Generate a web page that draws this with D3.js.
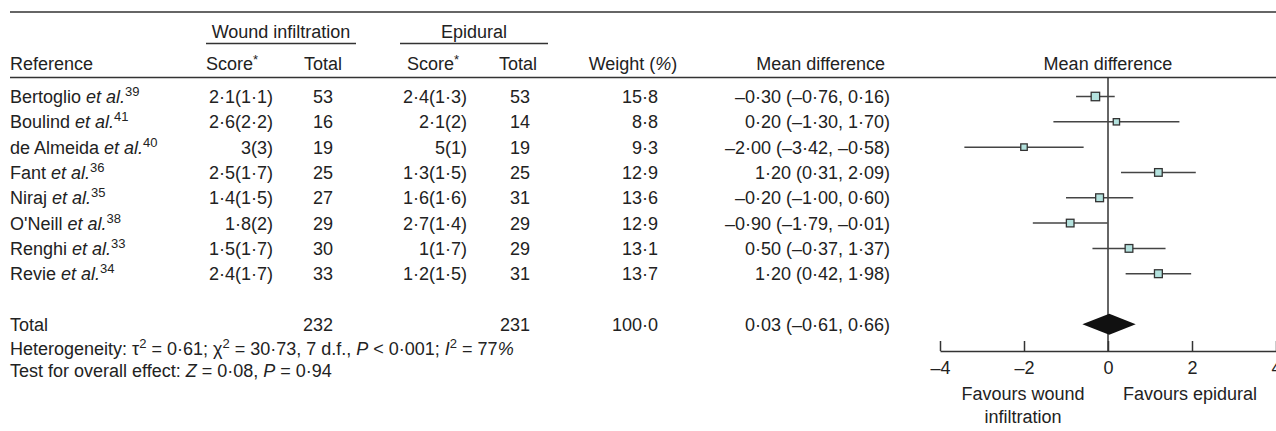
<!DOCTYPE html>
<html>
<head>
<meta charset="utf-8">
<script src="https://cdn.jsdelivr.net/npm/d3@7"></script>
<style>
  body { margin: 0; background: #fff; }
  svg text { font-family: "Liberation Sans", Arial, Helvetica, sans-serif; fill: #222; }
</style>
</head>
<body>
<svg id="chart" width="1276" height="431"></svg>
<script>
// forest plot: wound infiltration vs epidural

var authors   = ["Bertoglio", "Boulind", "de Almeida", "Fant", "Niraj", "O'Neill", "Renghi", "Revie"];
var refNums   = ["39", "41", "40", "36", "35", "38", "33", "34"];
var wiScore   = ["2·1(1·1)", "2·6(2·2)", "3(3)", "2·5(1·7)", "1·4(1·5)", "1·8(2)", "1·5(1·7)", "2·4(1·7)"];
var wiTotal   = [53, 16, 19, 25, 27, 29, 30, 33];
var epScore   = ["2·4(1·3)", "2·1(2)", "5(1)", "1·3(1·5)", "1·6(1·6)", "2·7(1·4)", "1(1·7)", "1·2(1·5)"];
var epTotal   = [53, 14, 19, 25, 31, 29, 29, 31];
var weights   = [15.8, 8.8, 9.3, 12.9, 13.6, 12.9, 13.1, 13.7];
var meanDiff  = [-0.30, 0.20, -2.00, 1.20, -0.20, -0.90, 0.50, 1.20];
var ciLow     = [-0.76, -1.30, -3.42, 0.31, -1.00, -1.79, -0.37, 0.42];
var ciHigh    = [0.16, 1.70, -0.58, 2.09, 0.60, -0.01, 1.37, 1.98];

var totalMD   = [0.03, -0.61, 0.66];   // estimate, low, high
var totalWI   = 232;
var totalEP   = 231;
var axisTicks = [-4, -2, 0, 2, 4];

var svg = d3.select("#chart");
var FS = 18;
var SUP = 13;

// numbers in the paper use a raised dot and an en dash
function fmt(v, digits) {
    var s = Math.abs(v).toFixed(digits).replace(".", "·");
    return (v < 0 ? "–" : "") + s;
}

var x = d3.scaleLinear().domain([-4, 4]).range([940, 1276]);
var yRow = d3.scaleLinear().domain([0, 7]).range([96.5, 273.7]);
var boxSize = d3.scaleSqrt().domain([0, 16]).range([0, 8.5]);

function txt(xp, yp, s, anchor) {
    return svg.append("text")
        .attr("x", xp).attr("y", yp)
        .attr("font-size", FS)
        .attr("text-anchor", anchor || "start")
        .text(s);
}

// rules
function hline(x1, x2, yp) {
    svg.append("line").attr("x1", x1).attr("x2", x2).attr("y1", yp).attr("y2", yp)
        .attr("stroke", "#333").attr("stroke-width", 1.3);
}
hline(10, 1276, 12);
hline(10, 1276, 77.5);
hline(206, 356, 43.5);
hline(400, 548, 43.5);

// headers
txt(281, 38, "Wound infiltration", "middle");
txt(474, 38, "Epidural", "middle");
txt(10, 70, "Reference");
var sc = txt(206, 70, "Score");
sc.append("tspan").attr("font-size", SUP).attr("dy", -6).text("*");
txt(323, 70, "Total", "middle");
var sc2 = txt(407, 70, "Score");
sc2.append("tspan").attr("font-size", SUP).attr("dy", -6).text("*");
txt(518, 70, "Total", "middle");
var wh = txt(633, 70, "Weight (", "middle");
wh.append("tspan").attr("font-style", "italic").text("%");
wh.append("tspan").text(")");
txt(885, 70, "Mean difference", "end");
txt(1108, 70, "Mean difference", "middle");

// study rows
var rows = svg.append("g").selectAll("g.row")
    .data(d3.range(authors.length))
    .enter().append("g").attr("class", "row")
    .attr("transform", function(i) { return "translate(0," + (yRow(i) + 6.5) + ")"; });

rows.append("text").attr("x", 10).attr("font-size", FS)
    .each(function(i) {
        var t = d3.select(this);
        t.append("tspan").text(authors[i] + " ");
        t.append("tspan").attr("font-style", "italic").text("et al.");
        t.append("tspan").attr("font-size", SUP).attr("dy", -7).text(refNums[i]);
    });
rows.append("text").attr("x", 273).attr("font-size", FS).attr("text-anchor", "end")
    .text(function(i) { return wiScore[i]; });
rows.append("text").attr("x", 333).attr("font-size", FS).attr("text-anchor", "end")
    .text(function(i) { return wiTotal[i]; });
rows.append("text").attr("x", 467).attr("font-size", FS).attr("text-anchor", "end")
    .text(function(i) { return epScore[i]; });
rows.append("text").attr("x", 530).attr("font-size", FS).attr("text-anchor", "end")
    .text(function(i) { return epTotal[i]; });
rows.append("text").attr("x", 658).attr("font-size", FS).attr("text-anchor", "end")
    .text(function(i) { return fmt(weights[i], 1); });
rows.append("text").attr("x", 890).attr("font-size", FS).attr("text-anchor", "end")
    .text(function(i) { return fmt(meanDiff[i], 2) + " (" + fmt(ciLow[i], 2) + ", " + fmt(ciHigh[i], 2) + ")"; });

// total row
var yTot = yRow(9);
txt(10, yTot + 6.5, "Total");
txt(333, yTot + 6.5, totalWI, "end");
txt(530, yTot + 6.5, totalEP, "end");
txt(658, yTot + 6.5, fmt(100, 1), "end");
txt(890, yTot + 6.5, fmt(totalMD[0], 2) + " (" + fmt(totalMD[1], 2) + ", " + fmt(totalMD[2], 2) + ")", "end");

// heterogeneity lines
var het = txt(10, 355, "Heterogeneity: τ");
het.append("tspan").attr("font-size", SUP).attr("dy", -7).text("2");
het.append("tspan").attr("dy", 7).text(" = 0·61; χ");
het.append("tspan").attr("font-size", SUP).attr("dy", -7).text("2");
het.append("tspan").attr("dy", 7).text(" = 30·73, 7 d.f., ");
het.append("tspan").attr("font-style", "italic").text("P");
het.append("tspan").text(" < 0·001; ");
het.append("tspan").attr("font-style", "italic").text("I");
het.append("tspan").attr("font-size", SUP).attr("dy", -7).text("2");
het.append("tspan").attr("dy", 7).text(" = 77");
het.append("tspan").attr("font-style", "italic").text("%");

var ovr = txt(10, 377, "Test for overall effect: ");
ovr.append("tspan").attr("font-style", "italic").text("Z");
ovr.append("tspan").text(" = 0·08, ");
ovr.append("tspan").attr("font-style", "italic").text("P");
ovr.append("tspan").text(" = 0·94");

// plot panel
var axisY = 351;
svg.append("line")
    .attr("x1", x(0)).attr("x2", x(0)).attr("y1", 77.5).attr("y2", axisY)
    .attr("stroke", "#333").attr("stroke-width", 1.5);

var ci = svg.append("g").selectAll("g.ci")
    .data(d3.range(authors.length))
    .enter().append("g").attr("class", "ci");
ci.append("line")
    .attr("x1", function(i) { return x(ciLow[i]); })
    .attr("x2", function(i) { return x(ciHigh[i]); })
    .attr("y1", function(i) { return yRow(i); })
    .attr("y2", function(i) { return yRow(i); })
    .attr("stroke", "#444").attr("stroke-width", 1.5);
ci.append("rect")
    .attr("x", function(i) { return x(meanDiff[i]) - boxSize(weights[i]) / 2; })
    .attr("y", function(i) { return yRow(i) - boxSize(weights[i]) / 2; })
    .attr("width", function(i) { return boxSize(weights[i]); })
    .attr("height", function(i) { return boxSize(weights[i]); })
    .attr("fill", "#b4e2de").attr("stroke", "#333").attr("stroke-width", 1.3);

// pooled diamond
svg.append("path")
    .attr("d", "M" + x(totalMD[1]) + "," + yTot +
               "L" + x(totalMD[0]) + "," + (yTot - 10.5) +
               "L" + x(totalMD[2]) + "," + yTot +
               "L" + x(totalMD[0]) + "," + (yTot + 10.5) + "Z")
    .attr("fill", "#111");

var ax = svg.append("g").attr("transform", "translate(0," + axisY + ")")
    .call(d3.axisBottom(x).tickValues(axisTicks).tickSizeInner(-10).tickSizeOuter(0).tickPadding(7)
        .tickFormat(function(d) { return fmt(d, 0); }));
ax.select(".domain").attr("stroke", "#333").attr("stroke-width", 1.5);
ax.selectAll(".tick line").attr("stroke", "#333").attr("stroke-width", 1.5);
ax.selectAll(".tick text").attr("font-size", FS).attr("font-family", null).attr("fill", "#222")
    .attr("dy", "0.71em").attr("y", 10);

txt(1023, 400, "Favours wound", "middle");
txt(1023, 423, "infiltration", "middle");
txt(1190, 400, "Favours epidural", "middle");
</script>
</body>
</html>
